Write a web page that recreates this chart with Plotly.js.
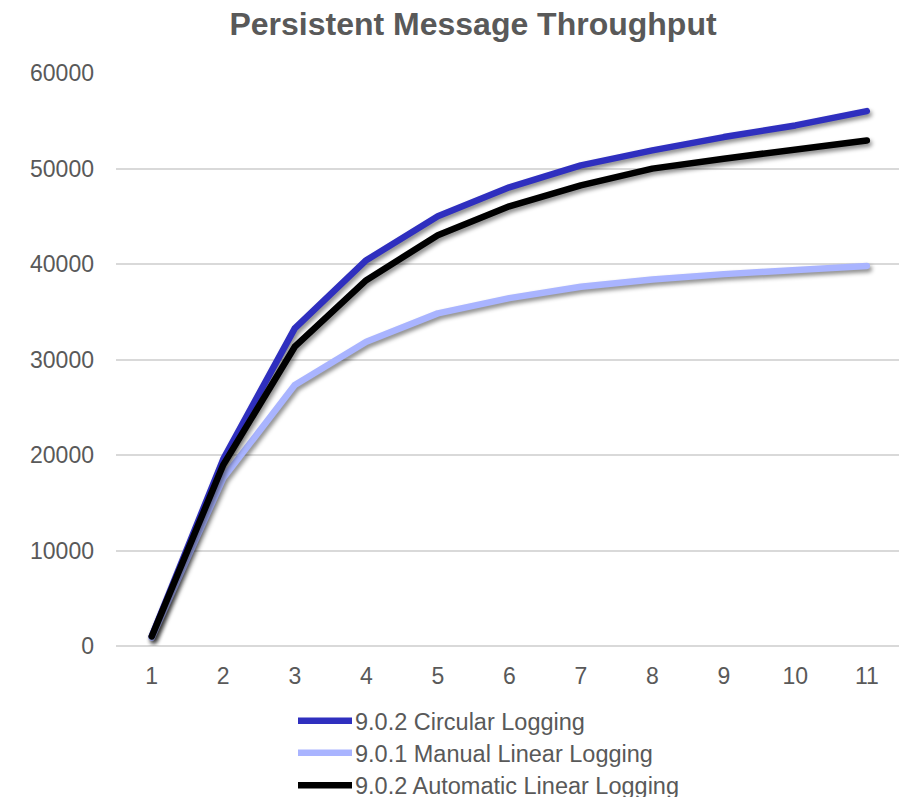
<!DOCTYPE html>
<html>
<head>
<meta charset="utf-8">
<script src="https://cdn.plot.ly/plotly-3.0.1.min.js"></script>
<style>
  html, body { margin: 0; padding: 0; background: #fff; overflow: hidden; }
  #chart { width: 899px; height: 797px; }
  .scatterlayer .js-line {
    stroke-linejoin: round;
    stroke-linecap: round;
    filter: drop-shadow(2px 3px 2px rgba(0,0,0,0.45));
  }
</style>
</head>
<body>
<div id="chart"></div>
<script>
// ---- data ----
const categories = [1, 2, 3, 4, 5, 6, 7, 8, 9, 10, 11];
const seriesNames = ["9.0.2 Circular Logging", "9.0.1 Manual Linear Logging", "9.0.2 Automatic Linear Logging"];
const circular  = [1020, 19570, 33260, 40400, 45000, 48030, 50330, 51900, 53290, 54510, 56010];
const manual    = [850, 17580, 27330, 31860, 34830, 36430, 37610, 38380, 38940, 39360, 39800];
const automatic = [1000, 18970, 31340, 38310, 43010, 46040, 48240, 49990, 51030, 51970, 52940];
const yTicks = [0, 10000, 20000, 30000, 40000, 50000, 60000];
const chartTitle = "Persistent Message Throughput";

// ---- styles ----
const colors = ["#2f2fbf", "#a9b4ff", "#000000"];
const values = [circular, manual, automatic];
const textColor = "#595959";
const fontFam = "Liberation Sans, Arial, sans-serif";

const W = 899, H = 797;
const mL = 116, mR = 0, mT = 72.5, mB = 150.5;
const plotW = W - mL - mR, plotH = H - mT - mB;

const traces = values.map((v, i) => ({
  type: "scatter",
  mode: "lines",
  x: categories,
  y: v,
  name: seriesNames[i],
  line: { color: colors[i], width: 6.5 },
  hoverinfo: "x+y+name",
  showlegend: false
}));

// custom legend (shapes + annotations in paper coords, positioned by pixel)
const px2x = p => (p - mL) / plotW;
const px2y = p => (H - mB - p) / plotH;
const legendRows = [721.5, 753.5, 786];
const shapes = seriesNames.map((n, i) => ({
  type: "line", xref: "paper", yref: "paper",
  x0: px2x(298), x1: px2x(352), y0: px2y(legendRows[i]), y1: px2y(legendRows[i]),
  line: { color: colors[i], width: 6.5 }
}));
const annotations = seriesNames.map((n, i) => ({
  xref: "paper", yref: "paper",
  x: px2x(353), y: px2y(legendRows[i] + 1),
  xanchor: "left", yanchor: "middle",
  text: n, showarrow: false,
  font: { family: fontFam, size: 23.5, color: textColor }
}));

const layout = {
  width: W, height: H,
  margin: { l: mL, r: mR, t: mT, b: mB, pad: 0 },
  paper_bgcolor: "#ffffff",
  plot_bgcolor: "#ffffff",
  font: { family: fontFam, size: 23, color: textColor },
  title: {
    text: "<b>" + chartTitle + "</b>",
    font: { family: fontFam, size: 32, color: textColor },
    x: 473 / W, xref: "container", xanchor: "center",
    y: 1 - 24 / H, yref: "container", yanchor: "middle"
  },
  xaxis: {
    type: "linear",
    range: [0.5, 11.45],
    tickvals: categories,
    ticktext: categories.map(String),
    showgrid: false,
    zeroline: false,
    showline: false,
    ticks: "",
    ticklabelstandoff: 14,
    tickfont: { size: 23, color: textColor },
    fixedrange: true
  },
  yaxis: {
    range: [0, 60000],
    tickvals: yTicks,
    ticktext: yTicks.map(String),
    showgrid: true,
    gridcolor: "#d9d9d9",
    gridwidth: 1.6,
    zeroline: true,
    zerolinecolor: "#d9d9d9",
    zerolinewidth: 2,
    showline: false,
    ticks: "",
    ticklabelstandoff: 21,
    tickfont: { size: 23, color: textColor },
    fixedrange: true
  },
  shapes: shapes,
  annotations: annotations,
  showlegend: false
};

Plotly.newPlot("chart", traces, layout, { displayModeBar: false, staticPlot: false });
</script>
</body>
</html>
